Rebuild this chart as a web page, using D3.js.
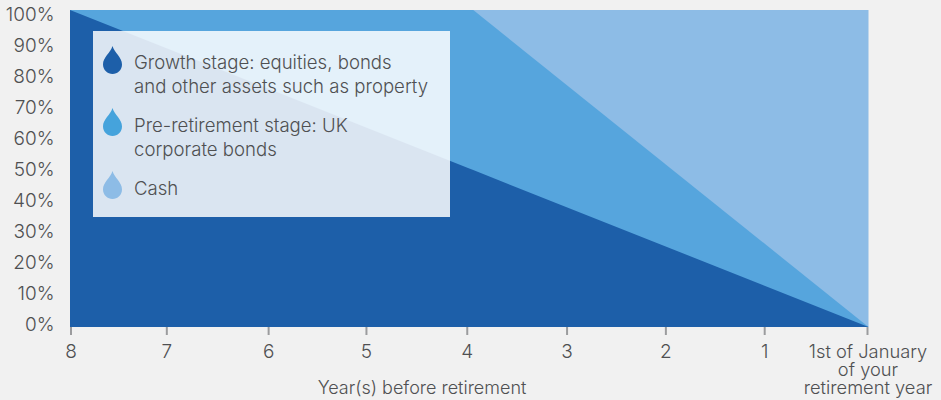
<!DOCTYPE html>
<html>
<head>
<meta charset="utf-8">
<script src="https://cdn.jsdelivr.net/npm/d3@7"></script>
<style>
html,body{margin:0;padding:0;background:#f1f1f1;}
svg{display:block;}
text{font-family:"Inter","Liberation Sans",sans-serif;font-weight:300;fill:#4f5052;}
</style>
</head>
<body>
<svg id="chart" width="941" height="400"></svg>
<script>
// Glide path: share of the pot held in each asset class, by years before retirement
const years = [8, 4, 3.96, 0];
const growthTop = [100, 50, 49.5, 0];
const preRetirementTop = [100, 100, 100, 0];
const cashTop = [100, 100, 100, 100];

const yTicks = [0, 10, 20, 30, 40, 50, 60, 70, 80, 90, 100];
const xTickYears = [7.99, 7.03, 6.01, 5.03, 4.02, 3.02, 2.03, 1.04, 0.01];
const xTickLabels = ["8", "7", "6", "5", "4", "3", "2", "1"];
const lastTickLines = ["1st of January", "of your", "retirement year"];
const xTitle = "Year(s) before retirement";

const seriesColors = ["#1d5fa9", "#56a5dd", "#8dbce6"];
const dropColors = ["#1d5fa9", "#45a3dc", "#8dbce6"];
const legendEntries = [
  ["Growth stage: equities, bonds", "and other assets such as property"],
  ["Pre-retirement stage: UK", "corporate bonds"],
  ["Cash"]
];

const svg = d3.select("#chart");
const x = d3.scaleLinear().domain([8, 0]).range([70, 868.5]);
const y = d3.scaleLinear().domain([0, 100]).range([327, 10]);
const yLabelPos = d3.scaleLinear().domain([0, 100]).range([324.5, 14.5]);

const area = top => d3.area()
  .x((d, i) => x(years[i]))
  .y0(y(0))
  .y1((d, i) => y(top[i]))(years);

// Layers are stacked back to front
[cashTop, preRetirementTop, growthTop].forEach((top, i) => {
  svg.append("path").attr("d", area(top)).attr("fill", seriesColors[2 - i]);
});

// Percentage axis
svg.append("g").selectAll("text").data(yTicks).join("text")
  .attr("x", 54.5).attr("y", d => yLabelPos(d)).attr("dy", "0.35em")
  .attr("text-anchor", "end").attr("font-size", 19)
  .text(d => d + "%");

// Year axis
const xAxis = svg.append("g");
xAxis.selectAll("line").data(xTickYears).join("line")
  .attr("x1", d => x(d)).attr("x2", d => x(d))
  .attr("y1", 327).attr("y2", 335)
  .attr("stroke", "#9b9c9e").attr("stroke-width", 2);
xAxis.selectAll("text.yr").data(xTickLabels).join("text").attr("class", "yr")
  .attr("x", (d, i) => x(xTickYears[i])).attr("y", 358)
  .attr("text-anchor", "middle").attr("font-size", 19)
  .text(d => d);
xAxis.selectAll("text.last").data(lastTickLines).join("text").attr("class", "last")
  .attr("x", 868).attr("y", (d, i) => 358 + i * 18)
  .attr("text-anchor", "middle").attr("font-size", 18.3)
  .text(d => d);
svg.append("text").attr("x", 422).attr("y", 394)
  .attr("text-anchor", "middle").attr("font-size", 18).text(xTitle);

// Legend panel
const legend = svg.append("g");
legend.append("rect").attr("x", 93).attr("y", 31).attr("width", 357).attr("height", 186)
  .attr("fill", "#fff").attr("fill-opacity", 0.84);

const dropPath = (cx, top) => {
  const p = d3.path();
  p.moveTo(cx, top);
  p.bezierCurveTo(cx + 2, top + 7, cx + 9.5, top + 11, cx + 9.5, top + 18.5);
  p.bezierCurveTo(cx + 9.5, top + 24, cx + 5, top + 28, cx, top + 28);
  p.bezierCurveTo(cx - 5, top + 28, cx - 9.5, top + 24, cx - 9.5, top + 18.5);
  p.bezierCurveTo(cx - 9.5, top + 11, cx - 2, top + 7, cx, top);
  p.closePath();
  return p.toString();
};
const dropTops = [46, 108, 171];
const lineStarts = [69, 132, 195];
legendEntries.forEach((lines, i) => {
  legend.append("path").attr("d", dropPath(112.5, dropTops[i])).attr("fill", dropColors[i]);
  lines.forEach((t, j) => {
    legend.append("text").attr("x", 134).attr("y", lineStarts[i] + j * 24)
      .attr("font-size", 18.6).text(t);
  });
});
</script>
</body>
</html>
